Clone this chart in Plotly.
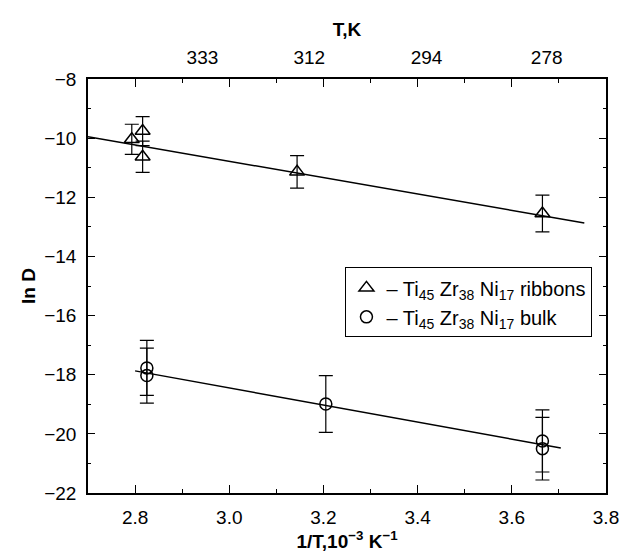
import plotly.graph_objects as go

# ---- data ----
ribbons_x = [2.793, 2.816, 2.816, 3.144, 3.665]
ribbons_y = [-10.04, -9.76, -10.63, -11.14, -12.55]
ribbons_err = [0.51, 0.49, 0.53, 0.55, 0.62]

bulk_x = [2.825, 2.825, 3.205, 3.665, 3.665]
bulk_y = [-17.77, -18.03, -18.99, -20.24, -20.50]
bulk_err = [0.93, 0.93, 0.96, 1.05, 1.06]

ribbons_fit_x = [2.70, 3.754]
ribbons_fit_y = [-9.95, -12.87]
bulk_fit_x = [2.80, 3.704]
bulk_fit_y = [-17.87, -20.48]

bottom_tick_vals = [2.8, 3.0, 3.2, 3.4, 3.6, 3.8]
bottom_tick_text = ["2.8", "3.0", "3.2", "3.4", "3.6", "3.8"]
top_tick_pos = [2.943, 3.170, 3.419, 3.674]
top_tick_text = ["333", "312", "294", "278"]
y_tick_vals = [-22, -20, -18, -16, -14, -12, -10, -8]

FONT = "Liberation Sans, Arial, sans-serif"
FS = 19

fig = go.Figure()

fig.add_trace(go.Scatter(x=ribbons_fit_x, y=ribbons_fit_y, mode="lines",
                         line=dict(color="black", width=1.5), showlegend=False,
                         hoverinfo="skip"))
fig.add_trace(go.Scatter(x=bulk_fit_x, y=bulk_fit_y, mode="lines",
                         line=dict(color="black", width=1.5), showlegend=False,
                         hoverinfo="skip"))

fig.add_trace(go.Scatter(
    x=ribbons_x, y=ribbons_y, mode="markers",
    name="– Ti<sub>45</sub> Zr<sub>38</sub> Ni<sub>17</sub> ribbons",
    marker=dict(symbol="triangle-up-open", size=13, color="black",
                line=dict(width=1.5, color="black")),
    error_y=dict(type="data", array=ribbons_err, visible=True,
                 color="black", thickness=1.2, width=7)))

fig.add_trace(go.Scatter(
    x=bulk_x, y=bulk_y, mode="markers",
    name="– Ti<sub>45</sub> Zr<sub>38</sub> Ni<sub>17</sub> bulk",
    marker=dict(symbol="circle-open", size=12, color="black",
                line=dict(width=1.5, color="black")),
    error_y=dict(type="data", array=bulk_err, visible=True,
                 color="black", thickness=1.2, width=7)))

# invisible trace to activate the top axis
fig.add_trace(go.Scatter(x=[2.7, 3.8], y=[-8, -8], xaxis="x2", mode="markers",
                         marker=dict(opacity=0), showlegend=False, hoverinfo="skip"))

fig.update_layout(
    width=622, height=558,
    margin=dict(l=88, r=16, t=79, b=65, autoexpand=False),
    paper_bgcolor="white", plot_bgcolor="white",
    font=dict(family=FONT, size=FS, color="black"),
    xaxis=dict(
        range=[2.7, 3.8], tickvals=bottom_tick_vals, ticktext=bottom_tick_text,
        ticks="inside", ticklen=8, tickwidth=1.2, tickcolor="black",
        minor=dict(tickvals=[2.7, 2.9, 3.1, 3.3, 3.5, 3.7], ticks="inside",
                   ticklen=4, tickwidth=1.2, tickcolor="black"),
        showline=True, linecolor="black", linewidth=1.5, mirror="ticks",
        showgrid=False, zeroline=False, ticklabelstandoff=6, automargin=False,
        title=dict(text="<b>1/T,10<sup>−3</sup> K<sup>−1</sup></b>",
                   font=dict(size=FS), standoff=4),
    ),
    xaxis2=dict(
        overlaying="x", side="top", range=[2.7, 3.8],
        tickvals=top_tick_pos, ticktext=top_tick_text,
        ticks="outside", ticklen=6, tickcolor="rgba(0,0,0,0)",
        showline=False, showgrid=False, zeroline=False, automargin=False,
        title=dict(text="<b>T,K</b>", font=dict(size=FS), standoff=5),
    ),
    yaxis=dict(
        range=[-22, -8], tickvals=y_tick_vals,
        ticks="inside", ticklen=7, tickwidth=1.2, tickcolor="black",
        minor=dict(tickvals=[-21, -19, -17, -15, -13, -11, -9], ticks="inside",
                   ticklen=3.5, tickwidth=1.2, tickcolor="black"),
        showline=True, linecolor="black", linewidth=1.5, mirror="ticks",
        showgrid=False, zeroline=False, ticklabelstandoff=6, automargin=False,
        title=dict(text="<b>ln D</b>", font=dict(size=FS), standoff=4),
    ),
    legend=dict(x=0.497, y=0.545, xanchor="left", yanchor="top",
                bordercolor="black", borderwidth=1, bgcolor="white",
                font=dict(size=20), tracegroupgap=0, itemwidth=30),
    showlegend=True,
)

fig.write_html("out.html", config={"displayModeBar": False},
               post_script="document.body.style.margin='0';")
